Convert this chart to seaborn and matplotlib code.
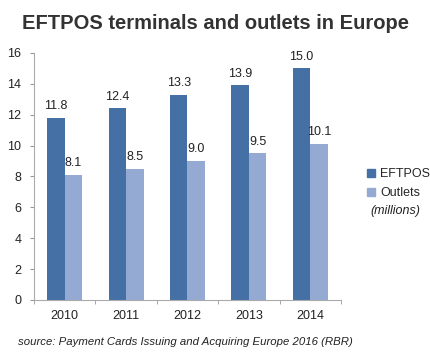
import pandas as pd
import numpy as np
import matplotlib.pyplot as plt
import matplotlib.patches as mpatches
import seaborn as sns

years = ['2010', '2011', '2012', '2013', '2014']
eftpos = [11.8, 12.4, 13.3, 13.9, 15.0]
outlets = [8.1, 8.5, 9.0, 9.5, 10.1]

df = pd.DataFrame({'Year': years * 2,
                   'Value': eftpos + outlets,
                   'Series': ['EFTPOS'] * 5 + ['Outlets'] * 5})

sns.set_style('white')
plt.rcParams['font.family'] = ['Liberation Sans', 'DejaVu Sans']

fig = plt.figure(figsize=(4.31, 3.6), dpi=100)
ax = fig.add_axes([0.079, 0.167, 0.712, 0.686])

palette = {'EFTPOS': '#4470a5', 'Outlets': '#95aad3'}
sns.barplot(data=df, x='Year', y='Value', hue='Series', palette=palette,
            width=0.57, saturation=1, linewidth=0, ax=ax, legend=False)

# value labels
for cont in ax.containers:
    ax.bar_label(cont, fmt='%.1f', padding=4, fontsize=9, color='#222222')

ax.set_ylim(0, 16)
ax.set_yticks(range(0, 17, 2))
ax.set_xlim(-0.5, 4.5)
ax.set_xlabel('')
ax.set_ylabel('')
ax.tick_params(axis='both', labelsize=9, colors='#222222')
ax.tick_params(axis='y', length=3, color='#999999', direction='out', left=True, pad=6)
ax.tick_params(axis='x', length=0, pad=7)
ax.set_xticks(np.arange(-0.5, 5, 1), minor=True)
ax.tick_params(axis='x', which='minor', length=3, color='#999999', direction='out', bottom=True)

for s in ['top', 'right']:
    ax.spines[s].set_visible(False)
for s in ['left', 'bottom']:
    ax.spines[s].set_color('#aaaaaa')
    ax.spines[s].set_linewidth(0.8)

fig.text(0.5, 0.935, 'EFTPOS terminals and outlets in Europe', ha='center',
         va='center', fontsize=14.5, fontweight='bold', color='#333333')

# legend
handles = [mpatches.Patch(color=palette[k]) for k in ['EFTPOS', 'Outlets']]
fig.legend(handles, ['EFTPOS', 'Outlets'], loc='center left',
           bbox_to_anchor=(0.838, 0.49), frameon=False, fontsize=9,
           handlelength=0.6, handleheight=0.6, handletextpad=0.4,
           labelspacing=0.55, borderpad=0)
fig.text(0.918, 0.414, '(millions)', fontsize=9, style='italic', color='#222222',
         ha='center', va='center')

fig.text(0.042, 0.05, 'source: Payment Cards Issuing and Acquiring Europe 2016 (RBR)',
         fontsize=8.2, style='italic', color='#222222', va='center')

fig.savefig('out.png', dpi=100)
